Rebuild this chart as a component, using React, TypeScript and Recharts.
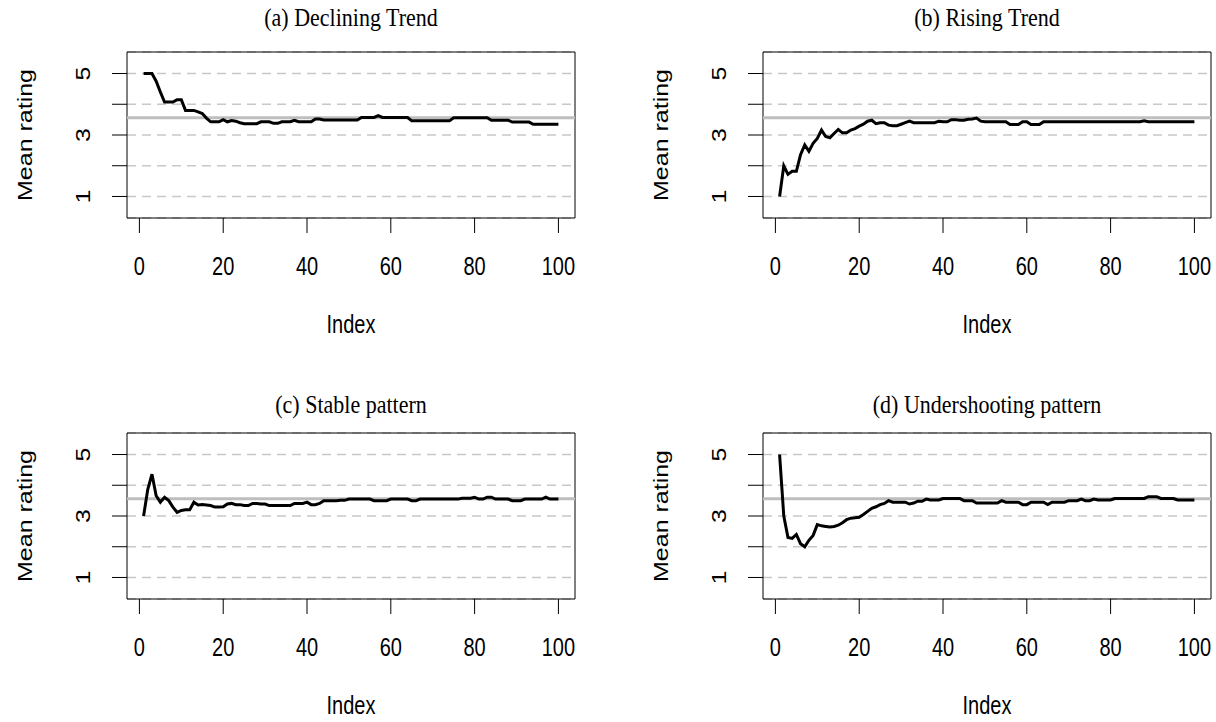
import React from 'react';
import {
  LineChart,
  Line,
  XAxis,
  YAxis,
  CartesianGrid,
  ReferenceLine,
  ReferenceArea,
} from 'recharts';

// running mean rating per index
const declining = [
  5.0, 5.0, 5.0, 4.75, 4.4, 4.07, 4.07, 4.07, 4.15, 4.15,
  3.8, 3.8, 3.8, 3.75, 3.7, 3.55, 3.43, 3.43, 3.43, 3.5,
  3.43, 3.47, 3.45, 3.4, 3.37, 3.37, 3.37, 3.37, 3.43, 3.43,
  3.43, 3.38, 3.38, 3.43, 3.43, 3.43, 3.48, 3.43, 3.43, 3.43,
  3.43, 3.52, 3.52, 3.49, 3.49, 3.49, 3.49, 3.49, 3.49, 3.49,
  3.49, 3.49, 3.57, 3.57, 3.57, 3.57, 3.63, 3.57, 3.57, 3.57,
  3.57, 3.57, 3.57, 3.57, 3.46, 3.46, 3.46, 3.46, 3.46, 3.46,
  3.46, 3.46, 3.46, 3.46, 3.56, 3.56, 3.56, 3.56, 3.56, 3.56,
  3.56, 3.56, 3.56, 3.48, 3.48, 3.48, 3.48, 3.48, 3.42, 3.42,
  3.42, 3.42, 3.42, 3.35, 3.35, 3.35, 3.35, 3.35, 3.35, 3.35,
];

const rising = [
  1.0, 2.0, 1.72, 1.82, 1.82, 2.36, 2.68, 2.47, 2.73, 2.89,
  3.16, 2.95, 2.91, 3.05, 3.18, 3.07, 3.07, 3.16, 3.21, 3.29,
  3.35, 3.45, 3.48, 3.37, 3.4, 3.4, 3.32, 3.3, 3.3, 3.35,
  3.4, 3.45, 3.4, 3.4, 3.4, 3.4, 3.4, 3.4, 3.45, 3.43,
  3.43, 3.5, 3.5, 3.48, 3.48, 3.51, 3.52, 3.55, 3.45, 3.43,
  3.43, 3.43, 3.43, 3.43, 3.43, 3.34, 3.34, 3.34, 3.43, 3.43,
  3.34, 3.34, 3.34, 3.43, 3.43, 3.43, 3.43, 3.43, 3.43, 3.43,
  3.43, 3.43, 3.43, 3.43, 3.43, 3.43, 3.43, 3.43, 3.43, 3.43,
  3.43, 3.43, 3.43, 3.43, 3.43, 3.43, 3.43, 3.46, 3.43, 3.43,
  3.43, 3.43, 3.43, 3.43, 3.43, 3.43, 3.43, 3.43, 3.43, 3.43,
];

const stable = [
  3.0, 3.87, 4.36, 3.66, 3.45, 3.61, 3.5, 3.29, 3.12, 3.18,
  3.2, 3.2, 3.45, 3.36, 3.37, 3.36, 3.34, 3.29, 3.29, 3.3,
  3.39, 3.41, 3.37, 3.37, 3.34, 3.34, 3.41, 3.41, 3.39, 3.39,
  3.34, 3.34, 3.34, 3.34, 3.34, 3.34, 3.41, 3.41, 3.41, 3.45,
  3.37, 3.37, 3.41, 3.5, 3.5, 3.5, 3.5, 3.51, 3.51, 3.55,
  3.55, 3.55, 3.55, 3.55, 3.55, 3.5, 3.5, 3.5, 3.5, 3.55,
  3.55, 3.55, 3.55, 3.55, 3.5, 3.5, 3.55, 3.55, 3.55, 3.55,
  3.55, 3.55, 3.55, 3.55, 3.55, 3.55, 3.58, 3.58, 3.58, 3.61,
  3.55, 3.55, 3.61, 3.61, 3.55, 3.55, 3.55, 3.55, 3.5, 3.5,
  3.5, 3.55, 3.55, 3.55, 3.55, 3.55, 3.61, 3.55, 3.55, 3.55,
];

const undershooting = [
  5.0, 3.0, 2.3, 2.27, 2.4, 2.1, 2.0, 2.21, 2.37, 2.72,
  2.68, 2.66, 2.64, 2.66, 2.7, 2.78, 2.88, 2.93, 2.94, 2.96,
  3.05, 3.15, 3.25, 3.3, 3.37, 3.41, 3.5, 3.45, 3.45, 3.45,
  3.45, 3.39, 3.42, 3.48, 3.48, 3.55, 3.52, 3.52, 3.52, 3.57,
  3.57, 3.57, 3.57, 3.57, 3.5, 3.5, 3.5, 3.42, 3.42, 3.42,
  3.42, 3.42, 3.42, 3.5, 3.45, 3.45, 3.45, 3.45, 3.37, 3.37,
  3.45, 3.45, 3.45, 3.45, 3.37, 3.45, 3.45, 3.45, 3.45, 3.5,
  3.5, 3.5, 3.55, 3.5, 3.5, 3.55, 3.52, 3.52, 3.52, 3.52,
  3.57, 3.57, 3.57, 3.57, 3.57, 3.57, 3.57, 3.57, 3.63, 3.63,
  3.63, 3.57, 3.57, 3.57, 3.57, 3.52, 3.52, 3.52, 3.52, 3.52,
];

const titles = [
  '(a) Declining Trend',
  '(b) Rising Trend',
  '(c) Stable pattern',
  '(d) Undershooting pattern',
];
const xTicks = [0, 20, 40, 60, 80, 100];
const yTicks = [1, 2, 3, 4, 5];
const yLabelled = [1, 3, 5];
const overallMean = 3.56;

const X_DOMAIN: [number, number] = [-2.96, 103.96];
const Y_DOMAIN: [number, number] = [0.3, 5.7];
const AXIS_FONT = '"Liberation Sans", Arial, sans-serif';
const TITLE_FONT = '"Liberation Serif", "Times New Roman", serif';
const FS = 20;
const STRETCH = 1.25; // the source image is taller than it is wide
const W = 580;
const PLOT_TOP = 52;
const PLOT_BOTTOM = 218;

// sans text, stretched vertically like the original, optionally rotated
function AxisText({ cx, cy, rotate, children }: any) {
  const t = `translate(${cx}, ${cy}) scale(1, ${STRETCH})${rotate ? ' rotate(-90)' : ''}`;
  return (
    <text
      x={0}
      y={0}
      transform={t}
      textAnchor="middle"
      dominantBaseline="central"
      fontFamily={AXIS_FONT}
      fontSize={FS}
      fill="#000"
    >
      {children}
    </text>
  );
}

function XTick(props: any) {
  const { x, y, payload } = props;
  return <AxisText cx={x} cy={y + 32}>{payload.value}</AxisText>;
}

function YTick(props: any) {
  const { x, y, payload } = props;
  if (!yLabelled.includes(payload.value)) return null;
  return <AxisText cx={x - 27} cy={y} rotate>{payload.value}</AxisText>;
}

const xLabel = (p: any) => {
  const vb = p.viewBox || {};
  return <AxisText cx={vb.x + vb.width / 2} cy={vb.y + 107}>Index</AxisText>;
};

const yLabel = (p: any) => {
  const vb = p.viewBox || {};
  return <AxisText cx={vb.x + 25} cy={vb.y + vb.height / 2} rotate>Mean rating</AxisText>;
};

function Panel({ title, values, left, top, height, titleY }: any) {
  const data = values.map((v: number, k: number) => ({ idx: k + 1, mean: v }));
  return (
    <div style={{ position: 'absolute', left, top, width: W, height }}>
      <div
        style={{
          position: 'absolute',
          left: 127,
          width: 448,
          top: titleY - 12,
          height: 24,
          lineHeight: '24px',
          textAlign: 'center',
          fontFamily: TITLE_FONT,
          fontSize: 22,
          color: '#000',
          transform: 'scaleY(1.15)',
        }}
      >
        {title}
      </div>
      <LineChart
        width={W}
        height={height}
        data={data}
        margin={{ top: PLOT_TOP, right: 5, bottom: 0, left: 0 }}
      >
        <CartesianGrid vertical={false} stroke="#c8c8c8" strokeDasharray="9 6" strokeWidth={1.5} />
        <XAxis
          dataKey="idx"
          type="number"
          domain={X_DOMAIN}
          ticks={xTicks}
          interval={0}
          allowDataOverflow
          height={height - PLOT_BOTTOM}
          tickSize={15}
          axisLine={false}
          tickLine={{ stroke: '#000' }}
          tick={<XTick />}
          label={xLabel}
        />
        <YAxis
          type="number"
          domain={Y_DOMAIN}
          ticks={yTicks}
          interval={0}
          allowDataOverflow
          width={127}
          tickSize={15}
          axisLine={false}
          tickLine={{ stroke: '#000' }}
          tick={<YTick />}
          label={yLabel}
        />
        <ReferenceLine y={overallMean} stroke="#bebebe" strokeWidth={3} />
        <Line
          type="linear"
          dataKey="mean"
          stroke="#000"
          strokeWidth={3}
          dot={false}
          activeDot={false}
          isAnimationActive={false}
        />
        <ReferenceArea
          x1={X_DOMAIN[0]}
          x2={X_DOMAIN[1]}
          y1={Y_DOMAIN[0]}
          y2={Y_DOMAIN[1]}
          fill="none"
          stroke="#000"
          strokeWidth={1}
        />
      </LineChart>
    </div>
  );
}

export default function App() {
  return (
    <div
      style={{
        position: 'absolute',
        left: 0,
        top: 0,
        width: 1216,
        height: 722,
        background: '#fff',
        overflow: 'hidden',
      }}
    >
      <Panel title={titles[0]} values={declining} left={0} top={0} height={370} titleY={18} />
      <Panel title={titles[1]} values={rising} left={636} top={0} height={370} titleY={18} />
      <Panel title={titles[2]} values={stable} left={0} top={381} height={341} titleY={24} />
      <Panel title={titles[3]} values={undershooting} left={636} top={381} height={341} titleY={24} />
    </div>
  );
}
